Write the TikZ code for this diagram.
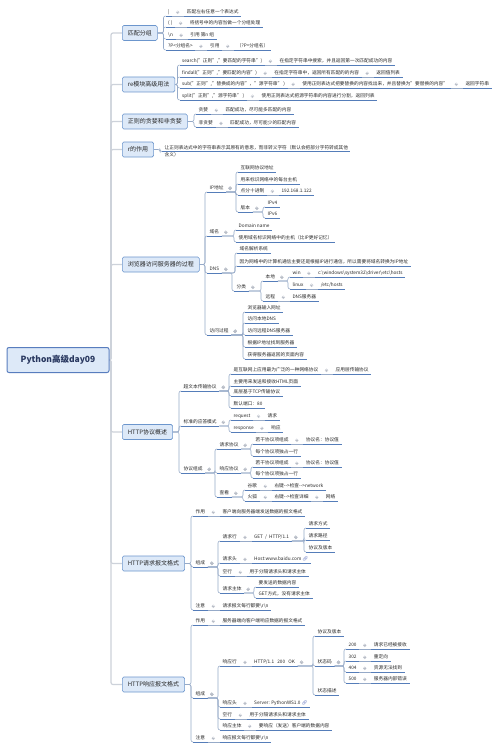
\documentclass[tikz,border=0pt]{standalone}
\usepackage{fontspec}
\setmainfont{Noto Sans CJK SC}
\newfontfamily\emofont{Noto Emoji}
\usetikzlibrary{calc}
\definecolor{boxf}{RGB}{221,233,248}
\definecolor{boxd}{RGB}{108,150,205}
\definecolor{rootd}{RGB}{88,125,190}
\definecolor{roott}{RGB}{40,55,95}
\definecolor{ulc}{RGB}{85,125,185}
\definecolor{connc}{RGB}{150,170,200}
\definecolor{spinec}{RGB}{205,210,218}
\definecolor{txt}{RGB}{40,40,40}
\definecolor{knobc}{RGB}{185,190,200}
\definecolor{linkc}{RGB}{90,110,190}
\newcommand\fsub{\fontsize{4.7}{7}\selectfont}
\newcommand\fmain{\fontsize{6}{7}\selectfont}
\newcommand\froot{\fontsize{8.5}{10}\selectfont}
\newcommand\lnk{{\emofont\textcolor{linkc}{🔗}}}
\tikzset{
 ubase/.style={anchor=south west, inner xsep=2.5pt, inner ysep=1.3pt, font=\fsub, text=txt,
   append after command={(\tikzlastnode.south west) edge[ul] (\tikzlastnode.south east)}},
 sub/.style={ubase, text height=3.5pt, text depth=0.9pt},
 ul/.style={draw=ulc, line width=0.8pt},
 conn/.style={draw=connc, line width=0.6pt, rounded corners=2pt},
 spine/.style={draw=spinec, line width=1.2pt, rounded corners=2pt},
 knob/.style={circle, draw=knobc, line width=0.3pt, minimum size=3pt, inner sep=0pt,
   path picture={\draw[knobc,line width=0.3pt] ([xshift=-0.9pt]path picture bounding box.center) -- ([xshift=0.9pt]path picture bounding box.center);}},
 mainbox/.style={anchor=west, draw=boxd, fill=boxf, line width=0.6pt, rounded corners=1.5pt, font=\fmain, text=txt, minimum height=15pt, inner xsep=5.5pt},
 rootbox/.style={draw=rootd, fill=boxf, line width=1pt, rounded corners=2pt, font=\froot\bfseries, text=roott, minimum width=102pt, minimum height=25pt},
}
% child of a main box
\newcommand\kidB[5]{\node[sub] (#2) at (#3,#4) {#5};\draw[conn] (#1.east) -| ([xshift=-2pt]#2.south west) -- (#2.south west);}
% child of a subtopic (branching)
\newcommand\kidS[5]{\node[sub] (#2) at (#3,#4) {#5};\draw[conn] (#1.south east) -| ([xshift=-2pt]#2.south west) -- (#2.south west);\node[knob] at ([xshift=4pt]#1.east) {};}
% single child on the same line
\newcommand\kidC[3]{\node[sub] (#2) at ([xshift=12pt]#1.south east) {#3};\draw[conn] (#1.south east) -- (#2.south west);\node[knob] at ([xshift=5.5pt]#1.east) {};}
\newcommand\bs{\textbackslash}
\begin{document}
\begin{tikzpicture}[x=1pt,y=-1pt]
\useasboundingbox (0,0) rectangle (500,749);
\fill[white] (0,0) rectangle (500,749);

% main spine connectors
\coordinate (rc) at (58,360);
\foreach \b/\yy in {b1/33,b2/84.5,b3/121.5,b4/149.5,b5/264.5,b7/432,b8/563.5,b9/684.5}
  \coordinate (\b w) at (122,\yy);
\foreach \b in {b1w,b2w,b3w,b4w,b5w,b7w,b8w,b9w}
  \draw[spine] (rc) -| ([xshift=-11pt]\b) -- (\b);

% root and main boxes
\node[rootbox] (r) at (rc) {Python高级day09};
\node[mainbox] (b1) at (b1w) {匹配分组};
\node[mainbox] (b2) at (b2w) {re模块高级用法};
\node[mainbox] (b3) at (b3w) {正则的贪婪和非贪婪};
\node[mainbox] (b4) at (b4w) {r的作用};
\node[mainbox] (b5) at (b5w) {浏览器访问服务器的过程};
\node[mainbox] (b7) at (b7w) {HTTP协议概述};
\node[mainbox] (b8) at (b8w) {HTTP请求报文格式};
\node[mainbox] (b9) at (b9w) {HTTP响应报文格式};

% 1 匹配分组
\kidB{b1}{a1}{165.5}{16}{|}
\kidC{a1}{a1a}{匹配左右任意一个表达式}
\kidB{b1}{a2}{165.5}{27}{( )}
\kidC{a2}{a2a}{将括号中的内容当做一个分组处理}
\kidB{b1}{a3}{165.5}{39}{\bs n}
\kidC{a3}{a3a}{引用 第n 组}
\kidB{b1}{a4}{165.5}{50}{?P<分组名>}
\kidC{a4}{a4a}{引用}
\kidC{a4a}{a4b}{（?P=分组名）}

% 2 re模块高级用法
\kidB{b2}{c1}{179.5}{65}{search("正则","要匹配的字符串")}
\kidC{c1}{c1a}{在指定字符串中搜索，并且返回第一次匹配成功的内容}
\kidB{b2}{c2}{179.5}{77}{findall("正则","要匹配的内容")}
\kidC{c2}{c2a}{在指定字符串中，返回所有匹配的的内容}
\kidC{c2a}{c2b}{返回值列表}
\kidB{b2}{c3}{179.5}{88}{sub("正则","替换成的内容"，"源字符串" )}
\kidC{c3}{c3a}{使用正则表达式把要替换的内容找出来，并且替换为"要替换的内容"}
\kidC{c3a}{c3b}{返回字符串}
\kidB{b2}{c4}{179.5}{100}{split("正则","源字符串" )}
\kidC{c4}{c4a}{使用正则表达式把源字符串的内容进行分割，返回列表}

% 3 贪婪
\kidB{b3}{d1}{196}{114}{贪婪}
\kidC{d1}{d1a}{匹配成功，尽可能多匹配的内容}
\kidB{b3}{d2}{196}{127}{非贪婪}
\kidC{d2}{d2a}{匹配成功，尽可能少的匹配内容}

% 4 r的作用
\node[ubase, text width=183pt, align=left, text depth=1pt] (e1) at (162,151.5)
  {让正则表达式中的字符串表示其原有的意思，而非转义字符（默认会把部分字符转成其他\\含义）};
\draw[conn] (b4.east) -| ([xshift=-2pt]e1.south west) -- (e1.south west);

% 5 浏览器访问服务器的过程
\kidB{b5}{f1}{207}{192}{IP地址}
\kidS{f1}{f11}{238}{172}{互联网协议地址}
\kidS{f1}{f12}{238}{184}{用来标识网络中的每台主机}
\kidS{f1}{f13}{238}{195}{点分十进制}
\kidC{f13}{f13a}{192.168.1.122}
\kidS{f1}{f14}{238}{212}{版本}
\kidS{f14}{f141}{265}{207}{IPv4}
\kidS{f14}{f142}{265}{218}{IPv6}
\kidB{b5}{f2}{207}{236}{域名}
\kidS{f2}{f21}{236}{230}{Domain name}
\kidS{f2}{f22}{236}{242}{使用域名标识网络中的主机（比IP更好记忆）}
\kidB{b5}{f3}{207}{273}{DNS}
\kidS{f3}{f31}{237}{253}{域名解析系统}
\kidS{f3}{f32}{237}{266}{因为网络中的计算机通信主要还是根据IP进行通信，所以需要将域名转换为IP地址}
\kidS{f3}{f33}{234}{291}{分类}
\kidS{f33}{f331}{263}{281}{本地}
\kidS{f331}{f3311}{290}{277}{win}
\kidC{f3311}{f3311a}{c:\bs windows\bs system32\bs driver\bs etc\bs hosts}
\kidS{f331}{f3312}{290}{289}{linux}
\kidC{f3312}{f3312a}{/etc/hosts}
\kidS{f33}{f332}{263}{301}{远程}
\kidC{f332}{f332a}{DNS服务器}
\kidB{b5}{f4}{207}{335}{访问过程}
\kidS{f4}{f41}{245}{312}{浏览器输入网址}
\kidS{f4}{f42}{245}{323}{访问本地DNS}
\kidS{f4}{f43}{245}{335}{访问远程DNS服务器}
\kidS{f4}{f44}{245}{347}{根据IP地址找到服务器}
\kidS{f4}{f45}{245}{359}{获得服务器返回的页面内容}

% 7 HTTP协议概述
\kidB{b7}{g1}{181}{391}{超文本传输协议}
\kidS{g1}{g11}{231}{374}{是互联网上应用最为广泛的一种网络协议}
\kidC{g11}{g11a}{应用层传输协议}
\kidS{g1}{g12}{231}{386}{主要用来发送和接收HTML页面}
\kidS{g1}{g13}{231}{396}{底层基于TCP传输协议}
\kidS{g1}{g14}{231}{408}{默认端口：80}
\kidB{b7}{g2}{181}{426}{标准的应答模式}
\kidS{g2}{g21}{231}{420}{request}
\kidC{g21}{g21a}{请求}
\kidS{g2}{g22}{231}{432}{response}
\kidC{g22}{g22a}{响应}
\kidB{b7}{g3}{181}{473}{协议组成}
\kidS{g3}{g31}{217}{449}{请求协议}
\kidS{g31}{g311}{253}{444}{若干协议项组成}
\kidC{g311}{g311a}{协议名：协议值}
\kidS{g31}{g312}{253}{456}{每个协议项独占一行}
\kidS{g3}{g32}{217}{473}{响应协议}
\kidS{g32}{g321}{253}{467}{若干协议项组成}
\kidC{g321}{g321a}{协议名：协议值}
\kidS{g32}{g322}{253}{478}{每个协议项独占一行}
\kidS{g3}{g33}{217}{497}{查看}
\kidS{g33}{g331}{245}{490}{谷歌}
\kidC{g331}{g331a}{右键{-}{-}>检查{-}{-}>network}
\kidS{g33}{g332}{245}{501}{火狐}
\kidC{g332}{g332a}{右键{-}{-}>检查详细}
\kidC{g332a}{g332b}{网络}

% 8 HTTP请求报文格式
\kidB{b8}{h1}{193}{516}{作用}
\kidC{h1}{h1a}{客户端向服务器端发送数据的报文格式}
\kidB{b8}{h2}{193}{567}{组成}
\kidS{h2}{h21}{220}{541}{请求行}
\kidC{h21}{h21a}{GET\ \ /\ \ HTTP/1.1}
\kidS{h21a}{h211}{306}{528}{请求方式}
\kidS{h21a}{h212}{306}{540}{请求路径}
\kidS{h21a}{h213}{306}{552}{协议及版本}
\kidS{h2}{h22}{220}{563}{请求头}
\kidC{h22}{h22a}{Host:www.baidu.com \lnk}
\kidS{h2}{h23}{220}{576}{空行}
\kidC{h23}{h23a}{用于分隔请求头和请求主体}
\kidS{h2}{h24}{220}{593}{请求主体}
\kidS{h24}{h241}{256}{587}{要发送的数据内容}
\kidS{h24}{h242}{256}{598}{GET方式，没有请求主体}
\kidB{b8}{h3}{193}{610}{注意}
\kidC{h3}{h3a}{请求报文每行都要\bs r\bs n}

% 9 HTTP响应报文格式
\kidB{b9}{k1}{193}{625}{作用}
\kidC{k1}{k1a}{服务器端向客户端响应数据的报文格式}
\kidB{b9}{k2}{193}{698}{组成}
\kidS{k2}{k21}{220}{666}{响应行}
\kidC{k21}{k21a}{HTTP/1.1\ \ \ 200\ \ \ OK}
\kidS{k21a}{k211}{315}{636}{协议及版本}
\kidS{k21a}{k212}{315}{666}{状态码}
\kidS{k212}{s1}{346}{649}{200}
\kidC{s1}{s1a}{请求已经被接收}
\kidS{k212}{s2}{346}{661}{302}
\kidC{s2}{s2a}{重定向}
\kidS{k212}{s3}{346}{672}{404}
\kidC{s3}{s3a}{资源无法找到}
\kidS{k212}{s4}{346}{683}{500}
\kidC{s4}{s4a}{服务器内部错误}
\kidS{k21a}{k213}{315}{695}{状态描述}
\kidS{k2}{k22}{220}{707}{响应头}
\kidC{k22}{k22a}{Server: PythonWS1.0 \lnk}
\kidS{k2}{k23}{220}{719}{空行}
\kidC{k23}{k23a}{用于分隔请求头和请求主体}
\kidS{k2}{k24}{220}{730}{响应主体}
\kidC{k24}{k24a}{要响应（发送）客户端的数据内容}
\kidB{b9}{k3}{193}{742}{注意}
\kidC{k3}{k3a}{响应报文每行都要\bs r\bs n}
\end{tikzpicture}
\end{document}
